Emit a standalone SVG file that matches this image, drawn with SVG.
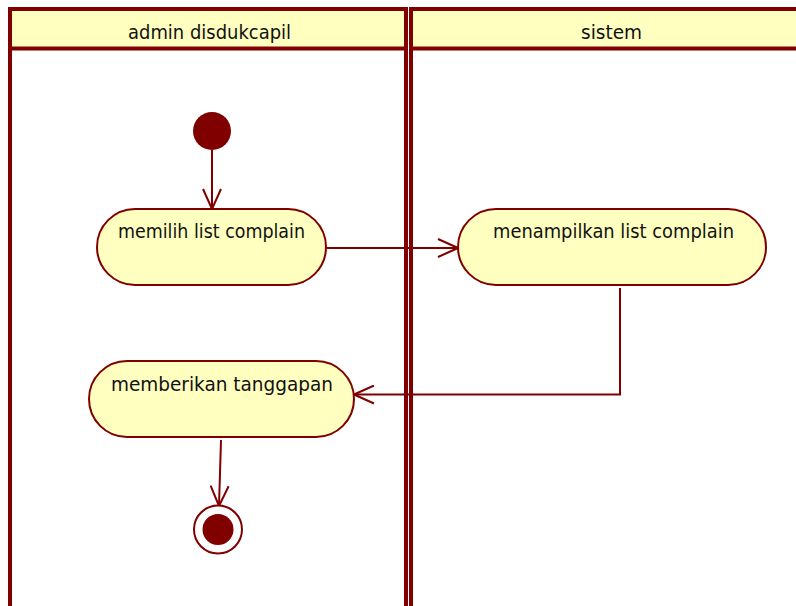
<svg xmlns="http://www.w3.org/2000/svg" width="796" height="606" viewBox="0 0 796 606">
  <defs>
    <style>
      .lane { fill: #ffffff; stroke: #800000; stroke-width: 4; }
      .lane-head { fill: #ffffc0; stroke: #800000; stroke-width: 4; }
      .act { fill: #ffffc0; stroke: #800000; stroke-width: 2; }
      .label { font-family: "DejaVu Sans", "Liberation Sans", sans-serif; font-size: 20px; fill: #111111; text-anchor: middle; }
      .flow { fill: none; stroke: #800000; stroke-width: 2; }
      .dot { fill: #800000; }
    </style>
    <marker id="open-arrow" viewBox="0 0 22 20" refX="21" refY="10" markerWidth="22" markerHeight="20" markerUnits="userSpaceOnUse" orient="auto">
      <path d="M1,1 L21,10 L1,19" fill="none" stroke="#800000" stroke-width="2"/>
    </marker>
  </defs>

  <!-- swimlanes -->
  <g id="lane-admin">
    <rect class="lane" x="10" y="9" width="396" height="640"/>
    <rect class="lane-head" x="10" y="9" width="396" height="39.5"/>
    <text class="label" x="209.5" y="39" textLength="163" lengthAdjust="spacingAndGlyphs">admin disdukcapil</text>
  </g>
  <g id="lane-sistem">
    <rect class="lane" x="411" y="9" width="420" height="640"/>
    <rect class="lane-head" x="411" y="9" width="420" height="39.5"/>
    <text class="label" x="611.5" y="39" textLength="61" lengthAdjust="spacingAndGlyphs">sistem</text>
  </g>

  <!-- connectors -->
  <g id="connectors">
    <line class="flow" x1="212" y1="150" x2="212" y2="209" marker-end="url(#open-arrow)"/>
    <line class="flow" x1="327" y1="248" x2="458" y2="248" marker-end="url(#open-arrow)"/>
    <polyline class="flow" points="620,288 620,394.5 354,394.5" marker-end="url(#open-arrow)"/>
    <line class="flow" x1="221" y1="440" x2="219" y2="506" marker-end="url(#open-arrow)"/>
  </g>

  <!-- start -->
  <g id="start">
    <circle class="dot" cx="212" cy="131" r="19"/>
  </g>

  <!-- actions -->
  <g id="memilih-list-complain">
    <rect class="act" x="97" y="209" width="229" height="76" rx="38" ry="38"/>
    <text class="label" x="211.5" y="238" textLength="187" lengthAdjust="spacingAndGlyphs">memilih list complain</text>
  </g>
  <g id="menampilkan-list-complain">
    <rect class="act" x="458" y="209" width="308" height="76" rx="38" ry="38"/>
    <text class="label" x="613.5" y="238" textLength="241" lengthAdjust="spacingAndGlyphs">menampilkan list complain</text>
  </g>
  <g id="memberikan-tanggapan">
    <rect class="act" x="89" y="361" width="265" height="76" rx="38" ry="38"/>
    <text class="label" x="222" y="391" textLength="222" lengthAdjust="spacingAndGlyphs">memberikan tanggapan</text>
  </g>

  <!-- end -->
  <g id="end">
    <circle cx="218" cy="529.5" r="24" fill="#ffffff" stroke="#800000" stroke-width="2"/>
    <circle class="dot" cx="218" cy="529.5" r="15.5"/>
  </g>
</svg>
